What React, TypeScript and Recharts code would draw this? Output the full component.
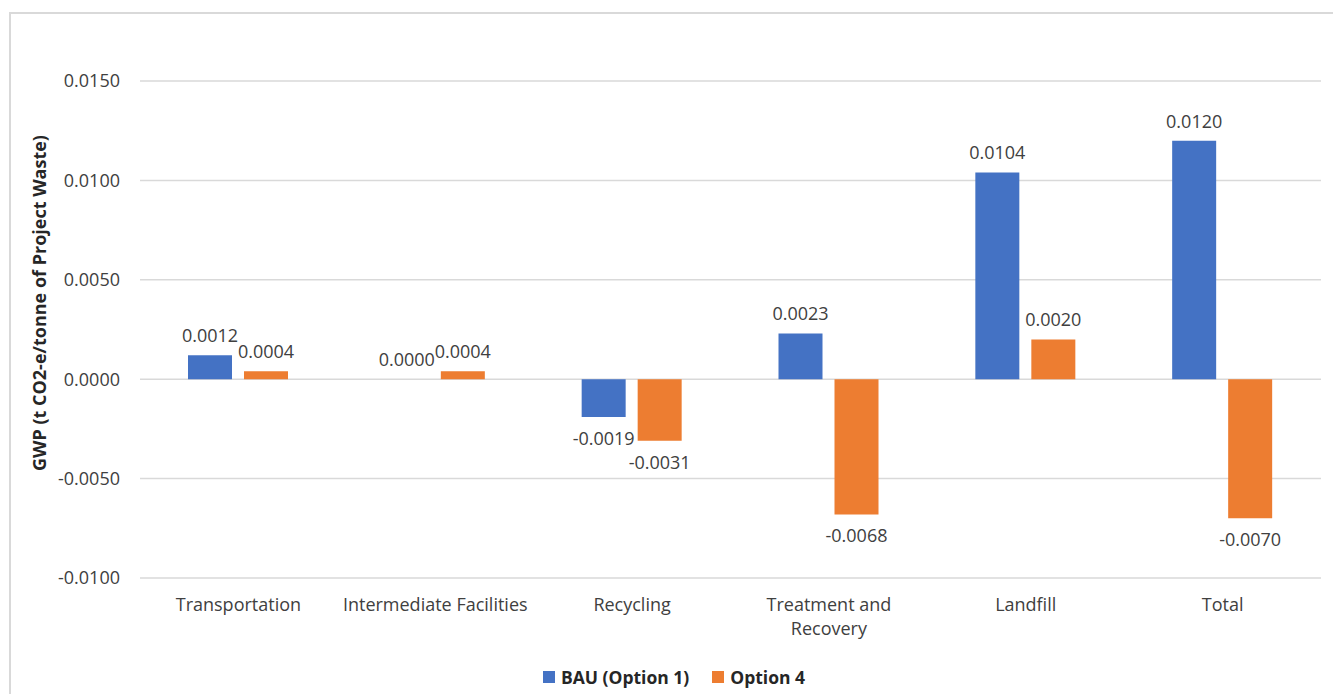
import React from "react";
import {
  BarChart,
  Bar,
  XAxis,
  YAxis,
  CartesianGrid,
  Legend,
  Label,
} from "recharts";

// Stages of the waste system (a "\n" forces a line break in the tick)
const categories = [
  "Transportation",
  "Intermediate Facilities",
  "Recycling",
  "Treatment and\nRecovery",
  "Landfill",
  "Total",
];

const bauValues = [0.0012, 0.0, -0.0019, 0.0023, 0.0104, 0.012];
const option4Values = [0.0004, 0.0004, -0.0031, -0.0068, 0.002, -0.007];

const yTicks = [-0.01, -0.005, 0, 0.005, 0.01, 0.015];

const seriesNames = ["BAU (Option 1)", "Option 4"];
const seriesColors = ["#4472C4", "#ED7D31"];

const FONT = "'Open Sans', sans-serif";
const TEXT_COLOR = "#404040";

const data = categories.map((name, i) => ({
  name,
  bau: bauValues[i],
  option4: option4Values[i],
}));

const fmt = (v: number) => v.toFixed(4);

// x-axis tick that honours explicit line breaks
const CategoryTick = (props: any) => {
  const { x, y, payload } = props;
  const lines = String(payload.value).split("\n");
  return (
    <text
      x={x}
      y={y}
      textAnchor="middle"
      fontFamily={FONT}
      fontSize={18}
      fill={TEXT_COLOR}
    >
      {lines.map((line, i) => (
        <tspan key={i} x={x} dy={i === 0 ? 33 : 24}>
          {line}
        </tspan>
      ))}
    </text>
  );
};

// value label: above positive (and zero) bars, below negative ones
const ValueLabel = (props: any) => {
  const { x, y, width, height, value } = props;
  if (value == null) return null;
  const h = height || 0;
  const top = Math.min(y, y + h);
  const bottom = Math.max(y, y + h);
  const cx = x + width / 2;
  const ty = value < 0 ? bottom + 28 : top - 13;
  return (
    <text
      x={cx}
      y={ty}
      textAnchor="middle"
      fontFamily={FONT}
      fontSize={18}
      fill={TEXT_COLOR}
    >
      {fmt(Number(value))}
    </text>
  );
};

const LegendContent = () => (
  <div
    style={{
      display: "flex",
      justifyContent: "center",
      alignItems: "center",
      height: 30,
      fontFamily: FONT,
      fontSize: 17.5,
      fontWeight: 700,
      color: "#262626",
    }}
  >
    {seriesNames.map((n, i) => (
      <div
        key={n}
        style={{ display: "flex", alignItems: "center", marginLeft: i ? 23 : 0 }}
      >
        <span
          style={{
            width: 12,
            height: 12,
            background: seriesColors[i],
            marginRight: 6,
            display: "inline-block",
          }}
        />
        <span>{n}</span>
      </div>
    ))}
  </div>
);

export default function App() {
  return (
    <div
      style={{
        marginTop: 4,
        marginLeft: 1,
        width: 1330,
        height: 690,
        border: "2px solid #d9d9d9",
        boxSizing: "border-box",
        background: "#fff",
      }}
    >
      <BarChart
        width={1326}
        height={686}
        data={data}
        margin={{ top: 67, right: 16, bottom: 8, left: 0 }}
        barSize={44}
        barGap={12}
      >
        <CartesianGrid vertical={false} stroke="#d9d9d9" strokeWidth={1.5} />
        <XAxis
          dataKey="name"
          axisLine={false}
          tickLine={false}
          tickSize={0}
          tickMargin={0}
          height={84}
          interval={0}
          tick={<CategoryTick />}
        />
        <YAxis
          width={129}
          domain={[-0.01, 0.015]}
          ticks={yTicks}
          axisLine={false}
          tickLine={false}
          tickMargin={14}
          tickFormatter={fmt}
          tick={{ fontFamily: FONT, fontSize: 18, fill: TEXT_COLOR }}
        >
          <Label
            content={() => (
              <text
                x={28}
                y={289}
                transform="rotate(-90 28 289)"
                textAnchor="middle"
                dominantBaseline="central"
                fontFamily={FONT}
                fontSize={18}
                fontWeight={700}
                fill="#262626"
              >
                GWP (t CO2-e/tonne of Project Waste)
              </text>
            )}
          />
        </YAxis>
        <Legend
          verticalAlign="bottom"
          content={<LegendContent />}
          wrapperStyle={{ left: 0, width: 1326 }}
        />
        {/* tiny minPointSize keeps zero-valued bars (and their labels) in the render */}
        <Bar
          dataKey="bau"
          name={seriesNames[0]}
          fill={seriesColors[0]}
          minPointSize={0.01}
          isAnimationActive={false}
          label={<ValueLabel />}
        />
        <Bar
          dataKey="option4"
          name={seriesNames[1]}
          fill={seriesColors[1]}
          minPointSize={0.01}
          isAnimationActive={false}
          label={<ValueLabel />}
        />
      </BarChart>
    </div>
  );
}
